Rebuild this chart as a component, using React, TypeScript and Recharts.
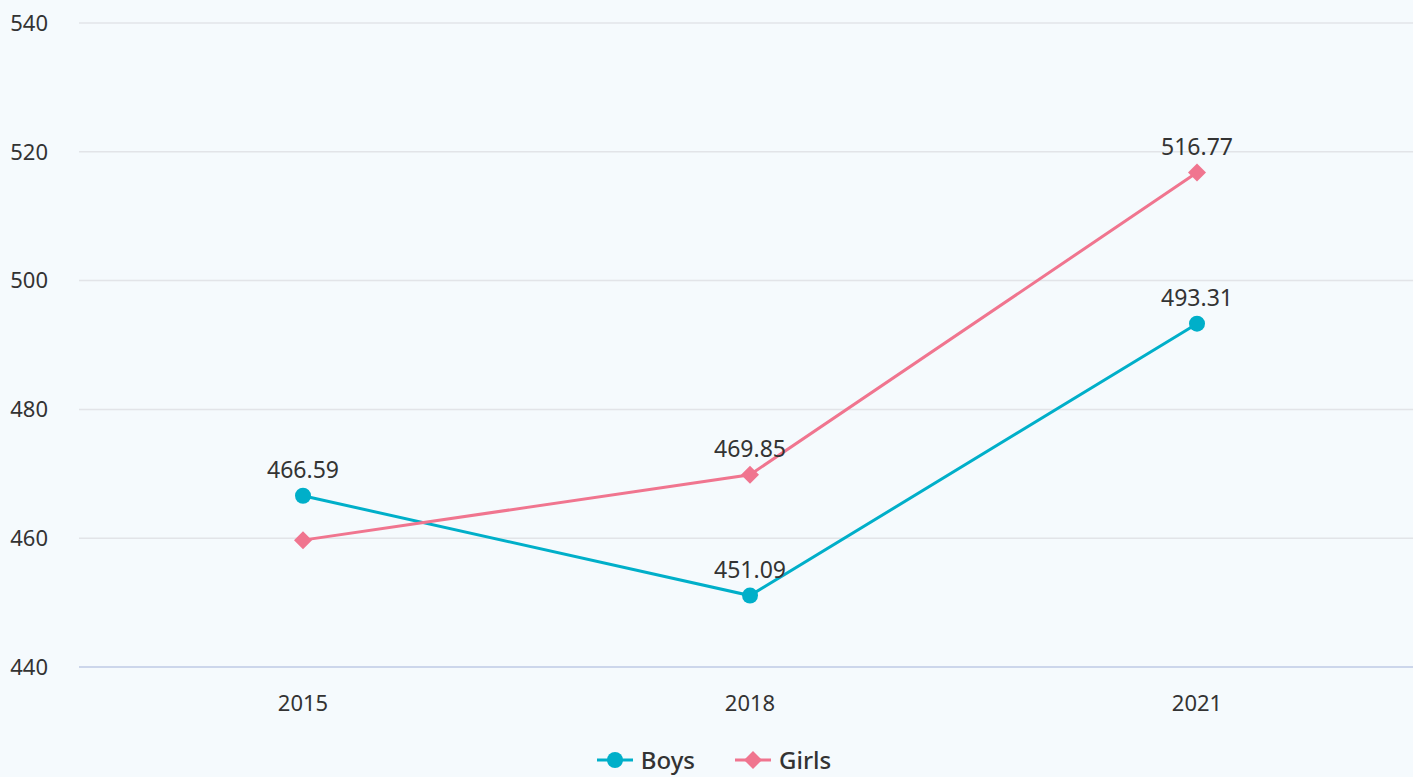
import { CartesianGrid, LabelList, Line, LineChart, XAxis, YAxis } from 'recharts';

const years = ['2015', '2018', '2021'];
const boysScores = [466.59, 451.09, 493.31];
const girlsScores = [459.7, 469.85, 516.77];
const girlsLabelShown = [false, true, true];
const yTicks = [440, 460, 480, 500, 520, 540];

const BOYS_COLOR = '#00afc9';
const GIRLS_COLOR = '#f0758f';
const FONT = '"Noto Sans", "Open Sans", sans-serif';

const chartData = years.map((year, i) => ({
  year,
  boys: boysScores[i],
  girls: girlsScores[i],
}));

type DotProps = { cx?: number; cy?: number };

function Diamond({ cx = 0, cy = 0 }: DotProps) {
  const r = 9;
  return (
    <path
      d={`M${cx},${cy - r}L${cx + r},${cy}L${cx},${cy + r}L${cx - r},${cy}Z`}
      fill={GIRLS_COLOR}
    />
  );
}

function Circle({ cx = 0, cy = 0 }: DotProps) {
  return <circle cx={cx} cy={cy} r={8} fill={BOYS_COLOR} />;
}

type LabelProps = { x?: number; y?: number; value?: number; index?: number };

function makeLabel(shown?: boolean[]) {
  return (props: LabelProps) => {
    const { x = 0, y = 0, value, index = 0 } = props;
    if (shown && !shown[index]) return null;
    return (
      <text x={x} y={y - 18} textAnchor="middle" fill="#333333" fontSize={23} fontFamily={FONT}>
        {value}
      </text>
    );
  };
}

function ChartLegend() {
  return (
    <div
      style={{
        display: 'flex',
        justifyContent: 'center',
        gap: 40,
        fontFamily: FONT,
        fontSize: 24,
        fontWeight: 500,
        lineHeight: '28px',
        color: '#333333',
      }}
    >
      <span style={{ display: 'flex', alignItems: 'center', gap: 8 }}>
        <svg width={36} height={20}>
          <line x1={0} y1={10} x2={36} y2={10} stroke={BOYS_COLOR} strokeWidth={3} />
          <circle cx={18} cy={10} r={8} fill={BOYS_COLOR} />
        </svg>
        Boys
      </span>
      <span style={{ display: 'flex', alignItems: 'center', gap: 8 }}>
        <svg width={36} height={20}>
          <line x1={0} y1={10} x2={36} y2={10} stroke={GIRLS_COLOR} strokeWidth={3} />
          <path d="M18,1L27,10L18,19L9,10Z" fill={GIRLS_COLOR} />
        </svg>
        Girls
      </span>
    </div>
  );
}

export default function App() {
  return (
    <div
      style={{
        position: 'absolute',
        left: 0,
        top: 0,
        width: 1413,
        height: 777,
        overflow: 'hidden',
        background: '#f5fafd',
      }}
    >
      <LineChart
        width={1421}
        height={740}
        data={chartData}
        margin={{ top: 23, right: 0, bottom: 0, left: 0 }}
      >
        <CartesianGrid vertical={false} stroke="#e2e4e8" strokeWidth={1.5} />
        <XAxis
          dataKey="year"
          padding={{ left: 224, right: 224 }}
          axisLine={{ stroke: '#ccd6eb', strokeWidth: 2 }}
          tickLine={false}
          tickSize={0}
          tickMargin={28}
          height={73}
          tick={{ fill: '#333333', fontSize: 22, fontFamily: FONT }}
        />
        <YAxis
          domain={[440, 540]}
          ticks={yTicks}
          width={79}
          axisLine={false}
          tickLine={false}
          tickSize={0}
          tickMargin={31}
          tick={{ fill: '#333333', fontSize: 22, fontFamily: FONT }}
        />
        <Line
          dataKey="boys"
          stroke={BOYS_COLOR}
          strokeWidth={3}
          dot={<Circle />}
          activeDot={false}
          isAnimationActive={false}
        >
          <LabelList dataKey="boys" content={makeLabel()} />
        </Line>
        <Line
          dataKey="girls"
          stroke={GIRLS_COLOR}
          strokeWidth={3}
          dot={<Diamond />}
          activeDot={false}
          isAnimationActive={false}
        >
          <LabelList dataKey="girls" content={makeLabel(girlsLabelShown)} />
        </Line>
      </LineChart>
      <div style={{ position: 'absolute', left: 0, top: 746, width: 1428 }}>
        <ChartLegend />
      </div>
    </div>
  );
}
